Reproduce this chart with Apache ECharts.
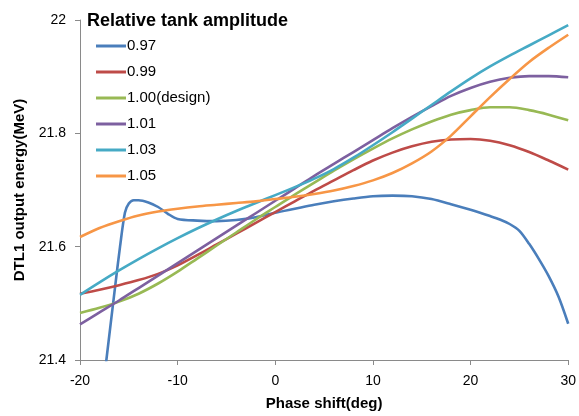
<!DOCTYPE html>
<html>
<head>
<meta charset="utf-8">
<script src="https://cdn.jsdelivr.net/npm/echarts@6/dist/echarts.min.js"></script>
<style>html,body{margin:0;padding:0;background:#fff}#c{width:579px;height:416px}</style>
</head>
<body>
<div id="c"></div>
<script>
// Phase shift (deg) sample points
var phase = [-20,-18,-16,-14,-12,-10,-8,-6,-4,-2,0,2,4,6,8,10,12,14,16,18,20,22,24,26,28,30];
var amp099 = [21.517,21.524,21.532,21.541,21.552,21.567,21.585,21.604,21.623,21.642,21.661,21.680,21.699,21.717,21.735,21.752,21.766,21.777,21.785,21.789,21.790,21.787,21.779,21.767,21.752,21.736];
var amp100 = [21.483,21.492,21.503,21.517,21.535,21.556,21.579,21.602,21.625,21.648,21.670,21.692,21.713,21.734,21.754,21.773,21.791,21.807,21.821,21.833,21.841,21.846,21.846,21.841,21.833,21.823];
var amp101 = [21.463,21.484,21.505,21.527,21.549,21.571,21.593,21.615,21.637,21.659,21.681,21.703,21.725,21.746,21.767,21.788,21.809,21.829,21.848,21.866,21.880,21.891,21.898,21.901,21.901,21.899];
var amp103 = [21.515,21.537,21.558,21.578,21.597,21.615,21.632,21.648,21.663,21.677,21.691,21.705,21.720,21.737,21.757,21.779,21.802,21.826,21.850,21.874,21.897,21.918,21.937,21.955,21.973,21.991];
var amp105 = [21.617,21.633,21.645,21.655,21.662,21.667,21.671,21.674,21.677,21.680,21.684,21.688,21.693,21.699,21.707,21.717,21.730,21.747,21.768,21.796,21.830,21.864,21.896,21.926,21.951,21.974];
// 0.97 has its own, denser phase samples
var phase097 = [-18,-17.3,-16.4,-15.9,-15.4,-15,-14.5,-14,-13,-12,-11,-10,-8,-6,-4,-2,0,2,4,6,8,10,12,14,16,18,20,22,23,24,25,26,27,28,29,30];
var amp097 = [21.30,21.40,21.530,21.600,21.660,21.676,21.682,21.682,21.678,21.670,21.658,21.649,21.646,21.645,21.647,21.652,21.660,21.667,21.674,21.680,21.685,21.689,21.690,21.689,21.684,21.675,21.665,21.654,21.648,21.640,21.628,21.605,21.578,21.548,21.512,21.464];

var seriesNames = ['0.97','0.99','1.00(design)','1.01','1.03','1.05'];
var colors = ['#4A7EBB','#BE4B48','#98B954','#7D60A0','#46AAC5','#F79646'];
var xTicks = {min:-20, max:30, interval:10};
var yTicks = {min:21.4, max:22, interval:0.2};

function pairs(xs, ys){ return xs.map(function(x,i){ return [x, ys[i]]; }); }
var dataSets = [pairs(phase097,amp097), pairs(phase,amp099), pairs(phase,amp100), pairs(phase,amp101), pairs(phase,amp103), pairs(phase,amp105)];

var font = '"Liberation Sans", Arial, sans-serif';
var chart = echarts.init(document.getElementById('c'), null, {renderer:'canvas'});
chart.setOption({
  animation:false,
  backgroundColor:'#fff',
  title:{text:'Relative tank amplitude', left:87, top:12, padding:0,
    textStyle:{fontFamily:font, fontSize:18, fontWeight:'bold', color:'#000'}},
  legend:{orient:'vertical', left:96, top:38, padding:0, itemWidth:30, itemHeight:3, itemGap:10,
    icon:'rect',
    data:seriesNames,
    textStyle:{fontFamily:font, fontSize:15, color:'#000', lineHeight:16, padding:[0,0,0,-4]}},
  grid:{left:80, right:8, top:20, bottom:52, containLabel:false},
  xAxis:{type:'value', min:xTicks.min, max:xTicks.max, interval:xTicks.interval,
    name:'Phase shift(deg)', nameLocation:'middle', nameGap:36,
    nameTextStyle:{fontFamily:font, fontSize:15, fontWeight:'bold', color:'#000'},
    axisLine:{show:true, onZero:false, lineStyle:{color:'#8a8a8a', width:1}},
    axisTick:{show:true, length:5, lineStyle:{color:'#8a8a8a'}},
    axisLabel:{fontFamily:font, fontSize:14, color:'#000', margin:14},
    splitLine:{show:false}},
  yAxis:{type:'value', min:yTicks.min, max:yTicks.max, interval:yTicks.interval,
    name:'DTL1 output energy(MeV)', nameLocation:'middle', nameGap:50,
    nameTextStyle:{fontFamily:font, fontSize:15, fontWeight:'bold', color:'#000'},
    axisLine:{show:true, onZero:false, lineStyle:{color:'#8a8a8a', width:1}},
    axisTick:{show:true, length:5, lineStyle:{color:'#8a8a8a'}},
    axisLabel:{fontFamily:font, fontSize:14, color:'#000', margin:14,
      formatter:function(v){ return (Math.round(v*10)/10).toString(); }},
    splitLine:{show:false}},
  series:seriesNames.map(function(n,i){
    return {name:n, type:'line', data:dataSets[i], symbol:'none', smooth:0.3,
      clip:true, color:colors[i], itemStyle:{color:colors[i]},
      lineStyle:{color:colors[i], width:2.6}};
  })
});
</script>
</body>
</html>
